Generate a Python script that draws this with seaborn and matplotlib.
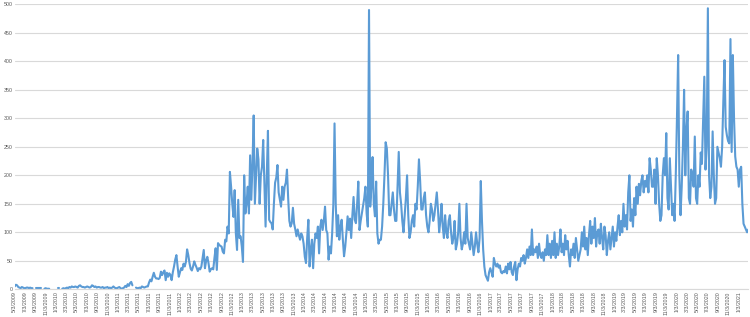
import numpy as np
import pandas as pd
import matplotlib
matplotlib.use("Agg")
import matplotlib.pyplot as plt
import seaborn as sns

nan = np.nan
start_date = "2009-05-03"

vals_2009_10 = [5,8,7,4,3,2,4,3,2,2, 3,3,2,3,2,2,nan,nan,2,2, 2,2,2,nan,nan,1,2,1,1,1,
                nan,nan,nan,nan,nan,nan, 2,2,nan,nan, 1,2,1,2,3,2,4,3,5,4, 4,5]
vals_2010_11 = [4,3,6,7,5,4,4,3,4,5, 4,3,4,7,6,4,5,3,4,4, 3,3,4,2,3,3,4,2,3,2,
                3,5,3,2,2,3,4,2,1,2, 3,6,4,9,6,11,13,7,nan,nan, 3,2]
vals_2011_12 = [2,3,2,5,4,3,4,5, 5,12,17,14,22,29,22,19,19,18,20,31,25,30,33,16,29,22,
                28,25,16,30,40,52,60,40,22,30,37,34,45,40,48,70,60,46,36,33,40,49,43,38,32,37]
vals_2012_13 = [35,40,55,69,37,50,57,46,31,35,37,35,55,72,34,81,78,76,75,66,63,87,84,110,98,
                206,180,150,127,174,98,69,157,90,93,75,48,200,133,150,180,133,235,157,220,305,
                150,200,247,228,150,200]
vals_2013_14 = [215,262,187,110,200,278,122,118,116,105,150,187,196,218,170,157,145,180,157,180,
                187,210,160,120,110,116,143,115,105,93,105,95,87,98,93,80,57,46,90,122,40,70,87,
                37,80,98,90,110,63,110,122,104]
vals_2014_15 = [120,145,104,98,52,75,63,98,150,291,150,93,130,87,110,122,87,58,75,100,128,104,
                124,90,130,162,122,116,150,189,104,120,133,145,160,180,133,110,490,145,180,232,
                150,128,189,98,80,87,87,110,150,200]
vals_2015_16 = [258,247,200,130,130,150,170,140,120,120,180,241,170,150,120,100,130,160,200,130,
                90,100,120,130,110,150,140,180,228,190,140,140,160,170,130,110,100,120,150,140,
                120,130,150,170,140,100,120,150,110,90,130,100]
vals_2016_17 = [90,120,130,100,80,90,120,70,80,100,150,90,70,80,100,80,150,90,80,70,100,80,60,
                75,100,80,65,90,190,120,70,40,25,20,15,30,37,30,22,55,45,40,45,38,42,30,28,32,
                30,40,28,45]
vals_2017_18 = [35,48,30,25,40,48,16,35,45,40,55,50,60,45,55,70,55,75,60,105,60,70,65,75,55,80,
                60,55,65,50,70,60,95,60,80,55,85,60,100,55,80,60,75,105,65,80,60,95,70,85,60,40]
vals_2018_19 = [70,60,80,55,90,70,50,60,70,100,75,110,70,90,60,95,120,80,110,90,125,75,100,105,
                80,115,90,70,110,95,60,85,100,70,90,110,75,100,85,110,130,95,120,100,150,110,130,
                105,170,200,120,140]
vals_2019_20 = [110,160,130,180,150,185,165,190,200,170,190,180,200,170,230,210,180,180,210,150,
                230,200,150,120,130,200,230,200,274,160,140,230,180,130,150,120,200,300,411,200,
                130,180,250,350,200,280,312,160,150,210,200,180]
vals_2020_21 = [268,160,150,200,180,240,220,300,373,210,250,493,200,160,180,277,200,150,160,250,
                240,230,215,250,330,402,285,270,260,256,439,241,411,300,233,215,210,180,210,215,
                150,115,110,105,100,105]

values = (vals_2009_10 + vals_2010_11 + vals_2011_12 + vals_2012_13 + vals_2013_14 +
          vals_2014_15 + vals_2015_16 + vals_2016_17 + vals_2017_18 + vals_2018_19 +
          vals_2019_20 + vals_2020_21)
dates = pd.date_range(start_date, periods=len(values), freq="7D")

df = pd.DataFrame({"date": dates, "value": values})
df["seg"] = df["value"].isna().cumsum()
df = df.dropna()

tick_dates = pd.date_range("2009-05-01", periods=72, freq="2MS") + pd.Timedelta(days=2)
tick_labels = [f"{d.month}/{d.day}/{d.year}" for d in tick_dates]

sns.set_theme(style="white")
plt.rcParams["font.family"] = ["Liberation Sans", "DejaVu Sans"]

fig = plt.figure(figsize=(7.5, 3.17), dpi=100)
ax = fig.add_axes([14.7 / 750, (317 - 289.3) / 317, (748.3 - 14.7) / 750, (289.3 - 4.3) / 317])

sns.lineplot(data=df, x="date", y="value", units="seg", estimator=None,
             color="#5B9BD5", linewidth=1.5, ax=ax, legend=False)

ax.set_ylim(0, 500)
ax.set_yticks(np.arange(0, 501, 50))
ax.set_xlim(dates[0], dates[-1])
shown = tick_dates <= dates[-1]
ax.set_xticks(tick_dates[shown])
ax.set_xticklabels([t for t, s in zip(tick_labels, shown) if s], rotation=90)
ax.set_xlabel("")
ax.set_ylabel("")
ax.grid(axis="y", color="#D9D9D9", linewidth=0.8)
ax.set_axisbelow(True)
for s in ["top", "right", "left"]:
    ax.spines[s].set_visible(False)
ax.spines["bottom"].set_color("#D9D9D9")
ax.spines["bottom"].set_linewidth(0.8)
ax.tick_params(axis="both", length=0, labelsize=3.8, colors="#595959", pad=1.5)

fig.savefig("out.png", dpi=100)
